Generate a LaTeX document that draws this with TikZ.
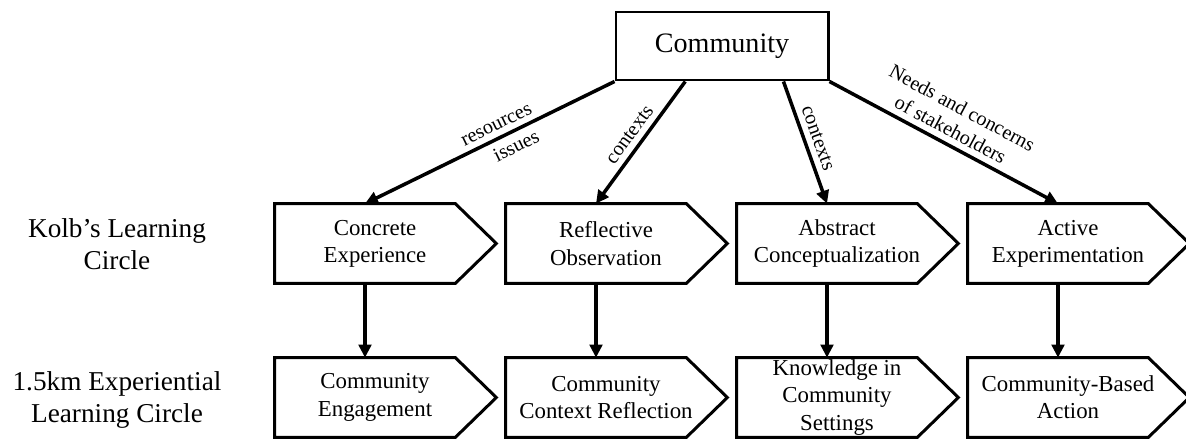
\documentclass[tikz,border=0pt]{standalone}
\usepackage{fontspec}
\setmainfont{Liberation Serif}
\usetikzlibrary{arrows.meta}

\begin{document}
\begin{tikzpicture}[x=0.2mm,y=-0.2mm,
	stage/.style={minimum width=40mm,minimum height=15.8mm,inner sep=0pt,align=center,font=\fontsize{13}{15.5}\selectfont},
	outline/.style={line width=1.7pt,line join=miter},
	flow/.style={-{Triangle[length=2.6mm,width=2.5mm]},line width=2pt},
	lbl/.style={font=\fontsize{11.5}{14}\selectfont,sloped}]
	\useasboundingbox (0,0) rectangle (1186,439);

	% draw community box
	\node[draw,line width=1.7pt,minimum width=42.4mm,minimum height=13.6mm,font=\fontsize{16}{19}\selectfont] (comm) at (722,46) {Community};

	% draw row labels
	\node[align=center,font=\fontsize{15.5}{18.5}\selectfont] (kolb) at (117,244) {Kolb’s Learning\\Circle};
	\node[align=center,font=\fontsize{15.5}{18.5}\selectfont] (explc) at (117,400) {1.5km Experiential\\Learning Circle};

	% draw nodes
	\node[stage] (concrete) at (375,243.5) {Concrete\\Experience};
	\node[stage] (reflective) at (606,243.5) {Reflective\\Observation};
	\node[stage] (abstract) at (837,243.5) {Abstract\\Conceptualization};
	\node[stage] (active) at (1068,243.5) {Active\\Experimentation};

	\node[stage] (engage) at (375,397.5) {Community\\Engagement};
	\node[stage] (reflect) at (606,397.5) {Community\\Context Reflection};
	\node[stage] (know) at (837,397.5) {Knowledge in\\Community\\Settings};
	\node[stage] (action) at (1068,397.5) {Community-Based\\Action};

	% draw pentagons
	\foreach \n in {concrete,reflective,abstract,active,engage,reflect,know,action}
		\draw[outline] (\n.north west) -- ([xshift=-4mm]\n.north east) -- ([xshift=4.2mm]\n.east) -- ([xshift=-4mm]\n.south east) -- (\n.south west) -- cycle;

	% draw arrows from community
	\draw[flow] (comm.south west) -- node[lbl,above,pos=.45] (res) {resources} node[lbl,below,pos=.42] (iss) {issues} ([xshift=-2mm]concrete.north);
	\draw[flow] (comm.224) -- node[lbl,above] (ctxa) {contexts} ([xshift=-2mm]reflective.north);
	\draw[flow] (comm.330) -- node[lbl,above] (ctxb) {contexts} ([xshift=-2mm]abstract.north);
	\draw[flow] (comm.south east) -- node[lbl,above,align=center] (needs) {Needs and concerns\\of stakeholders} ([xshift=-2mm]active.north);

	% draw arrows down
	\foreach \a/\b in {concrete/engage,reflective/reflect,abstract/know,active/action}
		\draw[flow] ([xshift=-2mm]\a.south) -- ([xshift=-2mm]\b.north);
\end{tikzpicture}
\end{document}
